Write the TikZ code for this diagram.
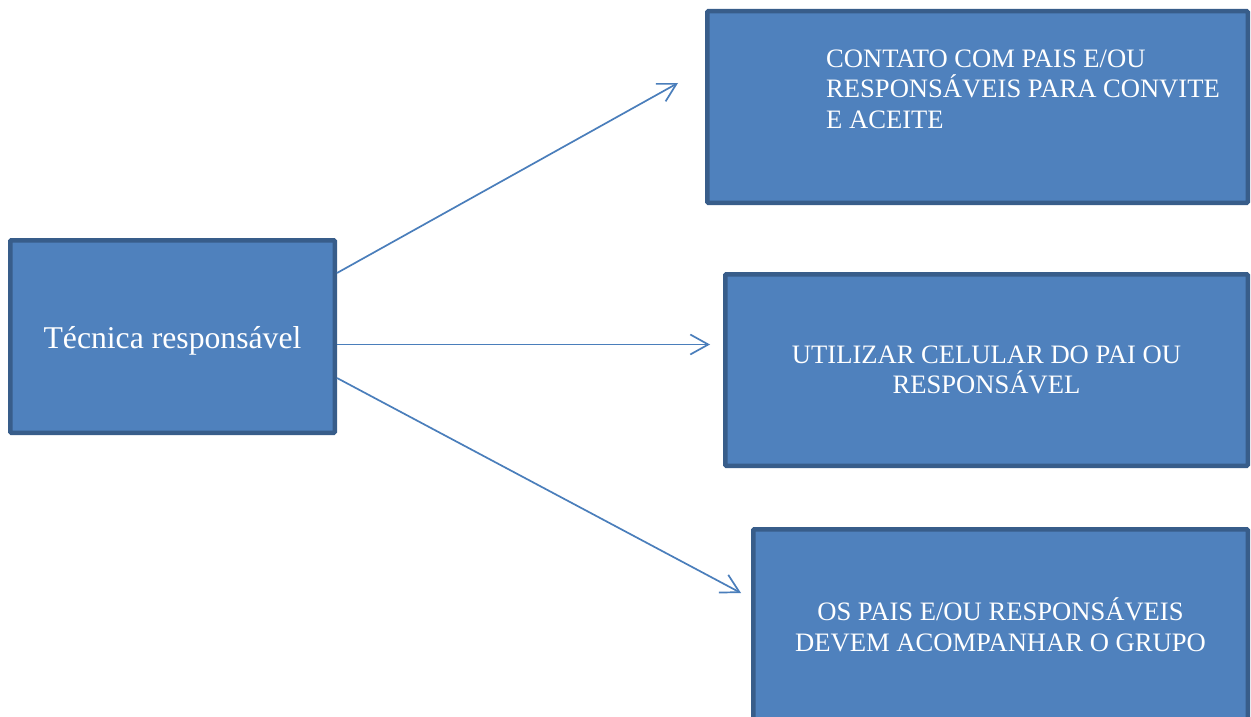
\documentclass[tikz,border=0pt]{standalone}
\usepackage{fontspec}
\setmainfont{Liberation Serif}
\usetikzlibrary{arrows.meta}
\definecolor{boxfill}{HTML}{4F81BD}
\definecolor{boxline}{HTML}{385D8A}
\definecolor{arrowcol}{HTML}{4A7EBB}
\begin{document}
\begin{tikzpicture}[x=1pt,y=-1pt,
  box/.style={draw=boxline, fill=boxfill, line width=4.5pt, rounded corners=1pt,
    text=white, inner sep=0pt, align=center, font=\fontsize{26.6}{30.6}\selectfont},
  conn/.style={draw=arrowcol, line width=1.7pt,
    -{Straight Barb[length=18pt,width=20pt,line width=1.7pt]}}]
\useasboundingbox (0,0) rectangle (1251,717);
\clip (0,0) rectangle (1251,717);
\fill[white] (0,0) rectangle (1251,717);
\node[box, minimum width=324.5pt, minimum height=192.5pt,
  font=\fontsize{31.7}{36}\selectfont] (L) at (172.5,336.5)
  {\raisebox{-4pt}[\height][\depth]{Técnica responsável}};
\node[box, minimum width=540.5pt, minimum height=191.5pt] (A) at (977.5,107) {};
\node[text=white, inner sep=0pt, anchor=north west, align=left,
  font=\fontsize{26.6}{30.4}\selectfont] (Atext) at (826,49.5)
  {CONTATO COM PAIS E/OU\\RESPONSÁVEIS PARA CONVITE\\E ACEITE};
\node[box, minimum width=522.5pt, minimum height=191.5pt] (B) at (986.5,370)
  {UTILIZAR CELULAR DO PAI OU\\RESPONSÁVEL};
\node[box, minimum width=494.5pt, minimum height=191.5pt] (C) at (1000.5,625)
  {OS PAIS E/OU RESPONSÁVEIS\\DEVEM ACOMPANHAR O GRUPO};
\coordinate (e1) at (678,83);
\coordinate (e2) at (710,344.5);
\coordinate (e3) at (741,593);
\draw[conn] ([yshift=63.5pt]L.east) -- (e1);
\draw[conn] ([yshift=-8pt]L.east) -- (e2);
\draw[conn] ([yshift=-41.5pt]L.east) -- (e3);
\end{tikzpicture}
\end{document}
